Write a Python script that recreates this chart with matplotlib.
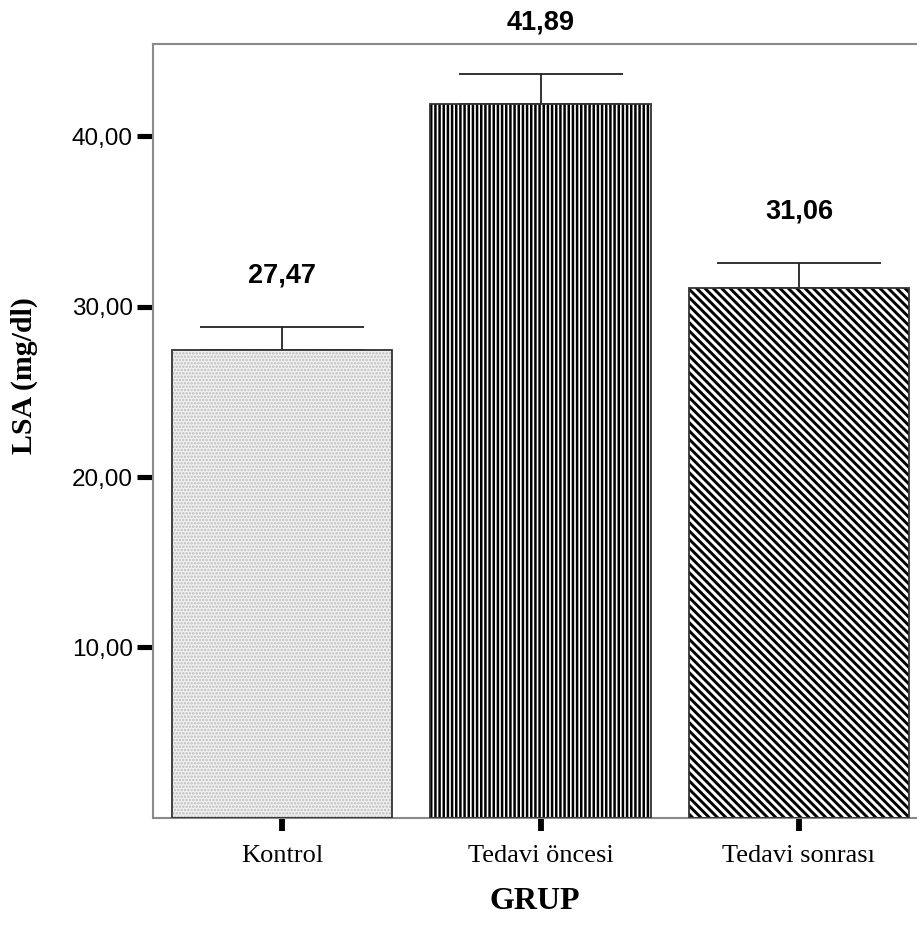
import matplotlib
matplotlib.use("Agg")
import matplotlib.pyplot as plt

# veriler
gruplar = ["Kontrol", "Tedavi öncesi", "Tedavi sonrası"]
ortalama = [27.47, 41.89, 31.06]
hata_ust = [1.33, 1.75, 1.50]
etiketler = ["27,47", "41,89", "31,06"]
y_ticks = [10, 20, 30, 40]
y_tick_labels = ["10,00", "20,00", "30,00", "40,00"]

fig = plt.figure(figsize=(9.17, 9.33), dpi=100)
ax = fig.add_axes([0.1669, 0.1233, 0.8331, 0.8295])

x = list(range(len(gruplar)))
genislik = 0.853

# dolgu desenleri (hatch rengi kenar rengi ile verilir)
desenler = [
    (dict(facecolor="#f2f2f2", edgecolor="#bbbbbb", hatch="....."), 1.2),
    (dict(facecolor="white", edgecolor="black", hatch="||||"), 1.8),
    (dict(facecolor="white", edgecolor="black", hatch="\\\\\\\\"), 2.1),
]
for xi, h, (d, lw) in zip(x, ortalama, desenler):
    with plt.rc_context({"hatch.linewidth": lw}):
        ax.bar(xi, h, width=genislik, linewidth=0, zorder=2, **d)
ax.bar(x, ortalama, width=genislik, fill=False, edgecolor="#333333",
       linewidth=1.3, zorder=3)

# sadece yukarı hata çubukları
ax.errorbar(x, ortalama, yerr=[[0] * 3, hata_ust], fmt="none",
            ecolor="#222222", elinewidth=1.3, capsize=59, capthick=1.3,
            zorder=1)

for xi, h, e, t in zip(x, ortalama, hata_ust, etiketler):
    ax.annotate(t, (xi, h + e), xytext=(0, 37), textcoords="offset points",
                ha="center", va="center", fontsize=19.5, fontweight="bold",
                family="Liberation Sans", annotation_clip=False)

ax.set_xlim(-0.5, 2.457)
ax.set_ylim(0, 45.4)
ax.set_yticks(y_ticks)
ax.set_yticklabels(y_tick_labels, family="Liberation Sans", fontsize=17.5)
ax.set_xticks(x)
ax.set_xticklabels(gruplar, family="Liberation Serif", fontsize=19)
ax.tick_params(axis="y", length=11.5, width=3.7, color="black",
               direction="out", pad=3)
ax.tick_params(axis="x", length=9.5, width=4.2, color="black",
               direction="out", pad=10)

for s in ["left", "top", "bottom"]:
    ax.spines[s].set_color("#8a8a8a")
    ax.spines[s].set_linewidth(1.5)
ax.spines["right"].set_visible(False)

ax.set_xlabel("GRUP", family="Liberation Serif", fontsize=23,
              fontweight="bold")
ax.xaxis.set_label_coords(0.5, -0.089)
ax.set_ylabel("LSA (mg/dl)", family="Liberation Serif", fontsize=21.5,
              fontweight="bold")
ax.yaxis.set_label_coords(-0.150, 0.571)

fig.savefig("out.png", dpi=100)
